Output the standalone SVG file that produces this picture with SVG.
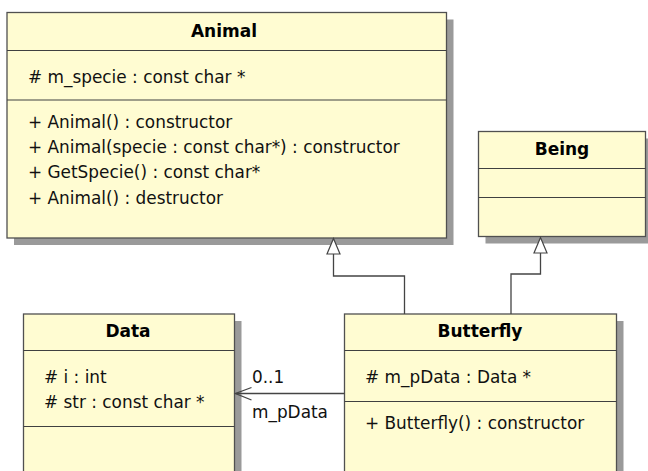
<svg xmlns="http://www.w3.org/2000/svg" width="648" height="471" viewBox="0 0 648 471">
  <defs>
    <style>
      .shadow { fill: #9a9a9a; stroke: none; }
      .box { fill: #fffcd2; stroke: #505050; stroke-width: 1.3; }
      .sep { stroke: #404040; stroke-width: 1.2; fill: none; }
      .title { font-family: "DejaVu Sans", sans-serif; font-size: 17px; font-weight: bold; fill: #000; text-anchor: middle; }
      .member { font-family: "DejaVu Sans", sans-serif; font-size: 16.9px; fill: #111; }
      .wire { fill: none; stroke: #444; stroke-width: 1.3; }
      .head { fill: #fff; stroke: #444; stroke-width: 1.2; }
      .label { font-family: "DejaVu Sans", sans-serif; font-size: 16.9px; fill: #111; }
    </style>
  </defs>
  <rect width="648" height="471" fill="#fff"/>

  <!-- Class: Animal -->
  <g id="animal">
    <rect class="shadow" x="14" y="19.5" width="439.5" height="225.5"/>
    <rect class="box" x="7" y="12.5" width="439.5" height="225.5"/>
    <line class="sep" x1="7" y1="50.5" x2="446.5" y2="50.5"/>
    <line class="sep" x1="7" y1="100" x2="446.5" y2="100"/>
    <text class="title" x="224" y="37">Animal</text>
    <text class="member" x="28" y="83"># m_specie : const char *</text>
    <text class="member" x="28" y="128">+ Animal() : constructor</text>
    <text class="member" x="28" y="153">+ Animal(specie : const char*) : constructor</text>
    <text class="member" x="28" y="178">+ GetSpecie() : const char*</text>
    <text class="member" x="28" y="204">+ Animal() : destructor</text>
  </g>

  <!-- Class: Being -->
  <g id="being">
    <rect class="shadow" x="485.5" y="138.5" width="167" height="105"/>
    <rect class="box" x="478.5" y="131.5" width="167" height="105"/>
    <line class="sep" x1="478.5" y1="168.5" x2="645.5" y2="168.5"/>
    <line class="sep" x1="478.5" y1="197.5" x2="645.5" y2="197.5"/>
    <text class="title" x="562" y="155">Being</text>
  </g>

  <!-- Class: Data -->
  <g id="data">
    <rect class="shadow" x="30.5" y="321" width="211" height="170"/>
    <rect class="box" x="23.5" y="314" width="211" height="170"/>
    <line class="sep" x1="23.5" y1="350.5" x2="234.5" y2="350.5"/>
    <line class="sep" x1="23.5" y1="426.5" x2="234.5" y2="426.5"/>
    <text class="title" x="128" y="337">Data</text>
    <text class="member" x="44" y="383"># i : int</text>
    <text class="member" x="44" y="408"># str : const char *</text>
  </g>

  <!-- Class: Butterfly -->
  <g id="butterfly">
    <rect class="shadow" x="351.5" y="321" width="272" height="170"/>
    <rect class="box" x="344.5" y="314" width="272" height="170"/>
    <line class="sep" x1="344.5" y1="350.5" x2="616.5" y2="350.5"/>
    <line class="sep" x1="344.5" y1="401.5" x2="616.5" y2="401.5"/>
    <text class="title" x="480" y="337">Butterfly</text>
    <text class="member" x="365" y="383"># m_pData : Data *</text>
    <text class="member" x="365" y="429">+ Butterfly() : constructor</text>
  </g>

  <!-- Connectors -->
  <g id="connectors">
    <!-- Butterfly generalizes Animal -->
    <path class="wire" d="M404.5 314 V276 H333.5 V254"/>
    <polygon class="head" points="333.5,238.5 327,254 340,254"/>
    <!-- Butterfly generalizes Being -->
    <path class="wire" d="M511 314 V274 H540.5 V253"/>
    <polygon class="head" points="540.5,237.5 534,253 547,253"/>
    <!-- Association Butterfly -> Data (m_pData) -->
    <path class="wire" d="M344.5 393.5 H235.5"/>
    <path class="wire" d="M251.5 387.5 L235.5 393.5 L251.5 400"/>
    <text class="label" x="252" y="383">0..1</text>
    <text class="label" x="252" y="418">m_pData</text>
  </g>
</svg>
